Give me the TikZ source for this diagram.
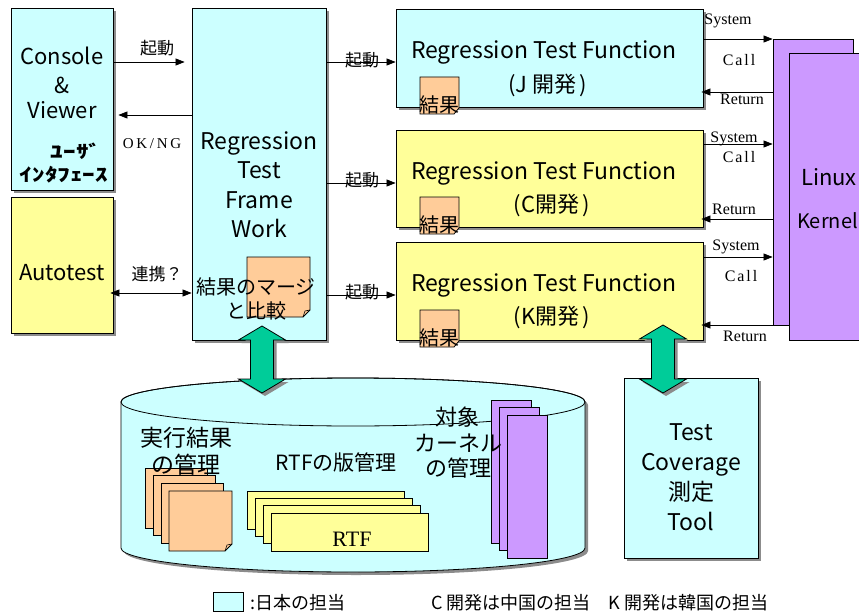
\documentclass[tikz,border=0pt]{standalone}
\usepackage{fontspec}
\usepackage{graphicx}
\setmainfont{Noto Sans CJK JP}
\newfontfamily\serifl{Liberation Serif}
\usetikzlibrary{arrows.meta,shadows}
\definecolor{cyanbox}{HTML}{CCFFFF}
\definecolor{yelbox}{HTML}{FFFF99}
\definecolor{orangebox}{HTML}{FFCC99}
\definecolor{purplebox}{HTML}{CC99FF}
\definecolor{greenarr}{HTML}{00CC99}
\definecolor{shadowgray}{HTML}{8C8C8C}
\newcommand\fs[1]{\fontsize{#1}{#1}\selectfont}
\tikzset{
  box/.style={draw=black, line width=0.8pt, inner sep=0pt,
    drop shadow={shadow xshift=3pt, shadow yshift=-3pt, fill=shadowgray, opacity=1}},
  plainbox/.style={draw=black, line width=0.8pt, inner sep=0pt},
  txt/.style={inner sep=0pt, font=\fs{22}},
  lbl/.style={inner sep=0pt, font=\fs{17}},
  serlbl/.style={inner sep=0pt, font=\serifl\fs{16}},
  arr/.style={-{Triangle[length=9pt,width=7pt]}, line width=0.7pt},
  darr/.style={{Triangle[length=9pt,width=7pt]}-{Triangle[length=9pt,width=7pt]}, line width=0.7pt},
  greenshape/.style={fill=greenarr, draw=black, line width=0.8pt,
    drop shadow={shadow xshift=3pt, shadow yshift=-3pt, fill=shadowgray, opacity=1}},
}
\newcommand\gdarrow[3]{%
  \path[greenshape] (#1,#2) -- (#1+23.5,#2+14) -- (#1+11.5,#2+14) -- (#1+11.5,#3-14)
    -- (#1+23.5,#3-14) -- (#1,#3) -- (#1-23.5,#3-14) -- (#1-11.5,#3-14)
    -- (#1-11.5,#2+14) -- (#1-23.5,#2+14) -- cycle;}
\begin{document}
\begin{tikzpicture}[x=1pt,y=-1pt]
\useasboundingbox (0,0) rectangle (859,615);
\fill[white] (0,0) rectangle (859,615);

% ---------- Linux kernel ----------
\node[plainbox, fill=purplebox, minimum width=80pt, minimum height=286pt] (kback) at (813,182) {};
\node[plainbox, fill=purplebox, minimum width=86pt, minimum height=287pt] (kfront) at (832,196.5) {};
\node[txt, anchor=center] (linux) at (829,177) {Linux};
\node[inner sep=0pt, font=\fs{20}, anchor=west] (kernel) at (797,221) {Kernel};

% ---------- main boxes ----------
\node[box, fill=cyanbox, minimum width=102pt, minimum height=182pt] (console) at (62,99) {};
\node[box, fill=yelbox, minimum width=102pt, minimum height=136pt] (autotest) at (62,265) {};
\node[box, fill=cyanbox, minimum width=134pt, minimum height=332pt] (frame) at (259,174) {};
\node[box, fill=cyanbox, minimum width=307pt, minimum height=98pt] (rtfj) at (549.5,58) {};
\node[box, fill=yelbox, minimum width=307pt, minimum height=97pt] (rtfc) at (549.5,178.5) {};
\node[box, fill=yelbox, minimum width=307pt, minimum height=98pt] (rtfk) at (549.5,291) {};
\node[box, fill=cyanbox, minimum width=134pt, minimum height=180pt] (tct) at (691,468) {};

% texts of boxes
\node[txt] (t-console) at (62,56) {Console};
\node[txt] (t-amp) at (62,85) {\&};
\node[txt] (t-viewer) at (62,110) {Viewer};
\node[inner sep=0pt, font=\fs{18}\bfseries] (t-user) at (76,151) {\scalebox{1.4}[1]{ﾕｰｻﾞ}};
\node[inner sep=0pt, font=\fs{18}\bfseries] (t-if) at (64,175) {\scalebox{1.4}[1]{ｲﾝﾀﾌｪｰｽ}};
\node[txt] (t-auto) at (62,273) {Autotest};
\node[txt, align=center, font=\fontsize{23}{29.5}\selectfont] (t-frame) at (259,184.5) {Regression\\Test\\Frame\\Work};
\node[txt, font=\fs{23}] (t-j1) at (544,52) {Regression Test Function};
\node[txt, font=\fs{22}] (t-j2) at (548,85) {(J 開発\,)};
\node[txt, font=\fs{23}] (t-c1) at (544,173) {Regression Test Function};
\node[txt, font=\fs{22}] (t-c2) at (552,205) {(C開発\,)};
\node[txt, font=\fs{23}] (t-k1) at (544,285) {Regression Test Function};
\node[txt, font=\fs{22}] (t-k2) at (552,317) {(K開発\,)};
\node[txt, align=center, font=\fontsize{23}{30}\selectfont] (t-tct) at (691,477) {Test\\Coverage\\測定\\Tool};

% note in frame
\path[plainbox, fill=orangebox] (247,257) -- (310,257) -- (310,310) -- (303,317) -- (247,317) -- cycle;
\draw[line width=0.6pt] (303,317) -- (305,311) -- (310,310);
\node[inner sep=0pt, font=\fs{20}] (t-merge1) at (256,287) {結果のマージ};
\node[inner sep=0pt, font=\fs{20}] (t-merge2) at (256,311) {と比較};

% result notes in RTF boxes
\foreach \nm/\yt in {j/77, c/197, k/310}{
  \path[plainbox, fill=orangebox] (420,\yt) -- (459,\yt) -- (459,\yt+31) -- (454,\yt+37) -- (420,\yt+37) -- cycle;
  \node[inner sep=0pt, font=\fs{20}, anchor=west] (res-\nm) at (419,\yt+28) {結果};
}

% ---------- arrows left ----------
\draw[arr, shorten >=7pt] (console.east |- 0,62) -- (frame.west |- 0,62);
\node[lbl] (l-kido0) at (157,48) {起動};
\draw[arr, shorten >=5pt] (frame.west |- 0,115) -- (console.east |- 0,115);
\node[inner sep=0pt, font=\serifl\fs{15}\addfontfeature{LetterSpace=18}] (l-okng) at (152,144) {OK/NG};
\draw[darr, shorten <=-3pt] (autotest.east |- 0,293) -- (frame.west |- 0,293);
\node[lbl] (l-renkei) at (157,274) {連携？};

% frame to RTF
\draw[arr] (frame.east |- 0,62) -- (rtfj.west |- 0,62);
\draw[arr] (frame.east |- 0,183) -- (rtfc.west |- 0,183);
\draw[arr] (frame.east |- 0,295) -- (rtfk.west |- 0,295);
\node[lbl] (l-kido1) at (362,60) {起動};
\node[lbl] (l-kido2) at (362,180) {起動};
\node[lbl] (l-kido3) at (362,292) {起動};

% system calls
\draw[arr] (rtfj.east |- 0,39) -- (kback.west |- 0,39);
\draw[arr, shorten >=-2pt] (kback.west |- 0,92) -- (rtfj.east |- 0,92);
\draw[arr] (rtfc.east |- 0,144) -- (kback.west |- 0,144);
\draw[arr, shorten >=-2pt] (kback.west |- 0,219) -- (rtfc.east |- 0,219);
\draw[arr] (rtfk.east |- 0,257) -- (kback.west |- 0,257);
\draw[arr, shorten >=-2pt] (kback.west |- 0,325) -- (rtfk.east |- 0,325);
\node[serlbl] (s-j1) at (728,21) {System};
\node[serlbl, font=\serifl\fs{16}\addfontfeature{LetterSpace=12}] (s-j2) at (739,60) {Call};
\node[serlbl] (s-j3) at (742,99) {Return};
\node[serlbl] (s-c1) at (734,139) {System};
\node[serlbl, font=\serifl\fs{16}\addfontfeature{LetterSpace=12}] (s-c2) at (739,157) {Call};
\node[serlbl] (s-c3) at (734,209) {Return};
\node[serlbl] (s-k1) at (736,247) {System};
\node[serlbl, font=\serifl\fs{16}\addfontfeature{LetterSpace=12}] (s-k2) at (741,276) {Call};
\node[serlbl] (s-k3) at (745,336) {Return};

% ---------- cylinder ----------
\fill[shadowgray] (124,405) -- (124,551) arc[start angle=180, end angle=0, x radius=232, y radius=24]
  -- (588,405) arc[start angle=0, end angle=-180, x radius=232, y radius=24] -- cycle;
\path[draw=black, line width=0.8pt, fill=cyanbox] (121,402) -- (121,548) arc[start angle=180, end angle=0, x radius=232, y radius=24]
  -- (585,402) arc[start angle=0, end angle=-180, x radius=232, y radius=24] -- cycle;
\draw[line width=0.8pt] (353,402) ellipse[x radius=232, y radius=24];
\coordinate (cyl) at (353,475);

% orange stack
\foreach \i in {0,1,2}{
  \path[plainbox, fill=orangebox] (145+8*\i,468+7.7*\i) rectangle (207+8*\i,528+7.7*\i);
}
\path[plainbox, fill=orangebox] (169,491) -- (232,491) -- (232,544) -- (225,551) -- (169,551) -- cycle;
\draw[line width=0.6pt] (225,551) -- (227,545) -- (232,544);

% yellow RTF stack
\foreach \i in {0,1,2,3}{
  \path[plainbox, fill=yelbox] (247+8*\i,491+7.3*\i) rectangle (404+8*\i,529+7.3*\i);
}
\node[inner sep=0pt, font=\serifl\fs{22}] (t-rtf) at (352,539) {RTF};

% purple stack
\foreach \i in {0,1,2}{
  \path[plainbox, fill=purplebox] (491+8*\i,400+7.5*\i) rectangle (531+8*\i,543+7.5*\i);
}

\node[inner sep=0pt, font=\fs{23}] (t-jikko1) at (186,438) {実行結果};
\node[inner sep=0pt, font=\fs{23}] (t-jikko2) at (186,465) {の管理};
\node[inner sep=0pt, font=\fs{21}] (t-han) at (336,462) {RTFの版管理};
\node[inner sep=0pt, font=\fs{22}] (t-tai1) at (457,417) {対象};
\node[inner sep=0pt, font=\fs{22}] (t-tai2) at (458,443) {カーネル};
\node[inner sep=0pt, font=\fs{22}] (t-tai3) at (458,468) {の管理};

% green double arrows
\gdarrow{262}{326}{393}
\gdarrow{663}{325}{393}

% ---------- legend ----------
\node[plainbox, fill=cyanbox, minimum width=30pt, minimum height=19pt] (legbox) at (228,601.5) {};
\node[inner sep=0pt, font=\fs{18}, anchor=west] (leg1) at (250,603) {:日本の担当};
\node[inner sep=0pt, font=\fs{18}, anchor=west] (leg2) at (431,603) {C 開発は中国の担当\quad K 開発は韓国の担当};
\end{tikzpicture}
\end{document}
